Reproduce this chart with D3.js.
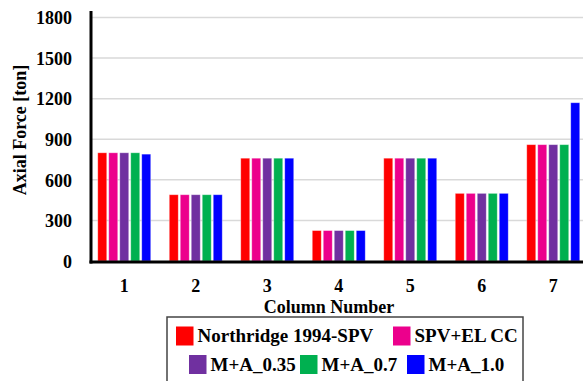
<!DOCTYPE html>
<html>
<head>
<meta charset="utf-8">
<script src="https://cdn.jsdelivr.net/npm/d3@7"></script>
<style>
  html, body { margin: 0; padding: 0; background: #fff; }
  svg { display: block; }
  svg text { font-family: "Liberation Serif", "Times New Roman", serif; font-weight: bold; fill: #000; }
</style>
</head>
<body>
<svg id="chart" width="583" height="381"></svg>
<script>
// Column axial forces [ton] for each analysis case
const columns = ["1", "2", "3", "4", "5", "6", "7"];
const seriesNames = ["Northridge 1994-SPV", "SPV+EL CC", "M+A_0.35", "M+A_0.7", "M+A_1.0"];
const seriesColors = ["#FF0000", "#EC008C", "#7030A0", "#00B050", "#0000FF"];
const northridgeSPV = [800, 490, 760, 225, 760, 500, 860];
const spvElCC       = [800, 490, 760, 225, 760, 500, 860];
const ma035         = [800, 490, 760, 225, 760, 500, 860];
const ma07          = [800, 490, 760, 225, 760, 500, 860];
const ma10          = [790, 490, 760, 225, 760, 500, 1170];
const yTicks = [0, 300, 600, 900, 1200, 1500, 1800];

const seriesValues = [northridgeSPV, spvElCC, ma035, ma07, ma10];

const svg = d3.select("#chart");

const x0 = d3.scaleBand().domain(columns).range([88.5, 589]).padding(0);
const x1 = d3.scaleBand().domain(seriesNames)
  .range([9.25, x0.bandwidth() - 9.25]).paddingInner(0.18).paddingOuter(0);
const y = d3.scaleLinear().domain([0, 1800]).range([261, 17.5]);

// horizontal gridlines
svg.append("g").selectAll("line").data(yTicks.slice(1)).join("line")
  .attr("x1", 91).attr("x2", 583)
  .attr("y1", d => y(d)).attr("y2", d => y(d))
  .attr("stroke", "#d9d9d9").attr("stroke-width", 1.5);

// bars
const groups = svg.append("g").selectAll("g").data(columns).join("g")
  .attr("transform", d => `translate(${x0(d)},0)`);
groups.selectAll("rect")
  .data((c, ci) => seriesNames.map((s, si) => ({ s, si, v: seriesValues[si][ci] })))
  .join("rect")
  .attr("x", d => x1(d.s))
  .attr("width", x1.bandwidth())
  .attr("y", d => y(d.v))
  .attr("height", d => y(0) - y(d.v))
  .attr("fill", d => seriesColors[d.si])
  .attr("stroke", "#ffffff").attr("stroke-opacity", 0.45).attr("stroke-width", 0.8);

// axes
const yAxis = d3.axisLeft(y).tickValues(yTicks).tickFormat(d3.format("d")).tickSize(0).tickPadding(0);
const gy = svg.append("g").attr("transform", "translate(72,0)").call(yAxis)
  .attr("font-family", null).attr("font-size", null);
gy.select(".domain").remove();
gy.selectAll("text").attr("font-size", 18).attr("dy", "0.35em");

const xAxis = d3.axisBottom(x0).tickSize(0).tickPadding(0);
const gx = svg.append("g").attr("transform", "translate(0,278)").call(xAxis)
  .attr("font-family", null).attr("font-size", null);
gx.select(".domain").remove();
gx.selectAll("text").attr("font-size", 18).attr("y", 0).attr("dy", "0.75em");

// axis lines
svg.append("line").attr("x1", 91).attr("x2", 91).attr("y1", 11).attr("y2", 263.5)
  .attr("stroke", "#000").attr("stroke-width", 3);
svg.append("line").attr("x1", 89.5).attr("x2", 583).attr("y1", 262).attr("y2", 262)
  .attr("stroke", "#000").attr("stroke-width", 3);

// axis titles
svg.append("text").attr("transform", "translate(26,130) rotate(-90)")
  .attr("text-anchor", "middle").attr("font-size", 18).text("Axial Force [ton]");
svg.append("text").attr("x", 329).attr("y", 313)
  .attr("text-anchor", "middle").attr("font-size", 18).text("Column Number");

// legend
svg.append("rect").attr("x", 167).attr("y", 317).attr("width", 356).attr("height", 70)
  .attr("fill", "#fff").attr("stroke", "#444").attr("stroke-width", 1.5);
const legendItems = [
  { si: 0, x: 176, y: 326.5 },
  { si: 1, x: 393, y: 326.5 },
  { si: 2, x: 189, y: 355 },
  { si: 3, x: 300, y: 355 },
  { si: 4, x: 407, y: 355 }
];
const lg = svg.append("g").selectAll("g").data(legendItems).join("g")
  .attr("transform", d => `translate(${d.x},${d.y})`);
lg.append("rect").attr("width", 17.5).attr("height", 19)
  .attr("fill", d => seriesColors[d.si]);
lg.append("text").attr("x", 21.5).attr("y", 15.5).attr("font-size", 19)
  .text(d => seriesNames[d.si]);
</script>
</body>
</html>
